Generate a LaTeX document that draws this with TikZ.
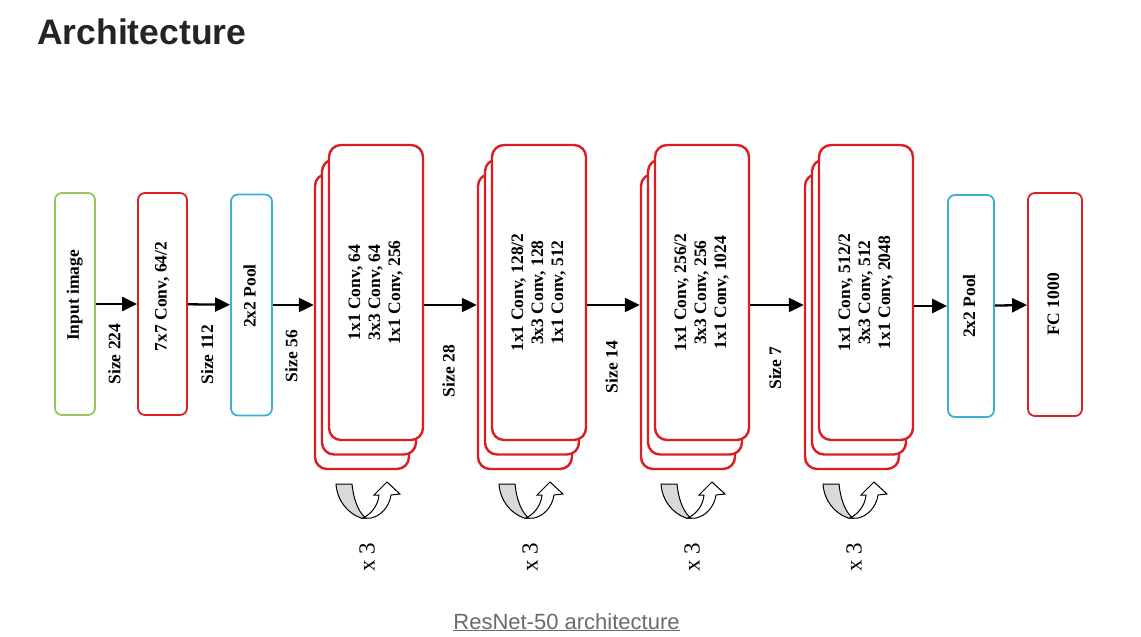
\documentclass[tikz,border=0pt]{standalone}
\usepackage{fontspec}
\usepackage{graphicx}
\setmainfont{Liberation Serif}
\newfontfamily\headfont{Liberation Sans}
\usetikzlibrary{arrows.meta}
\definecolor{boxred}{RGB}{220,30,36}
\definecolor{boxgreen}{RGB}{150,200,90}
\definecolor{boxblue}{RGB}{60,175,215}
\definecolor{capgray}{RGB}{107,107,107}
\definecolor{headblack}{RGB}{36,36,36}
\newcommand{\vlab}[1]{\rotatebox{90}{\begin{tabular}{@{}c@{}}#1\end{tabular}}}

\begin{document}
\begin{tikzpicture}[x=1pt,y=-1pt,
  blk/.style={draw,fill=white,rounded corners=7pt,line width=1.8pt,inner sep=0pt,font=\fontsize{17.5}{20}\selectfont\bfseries},
  stk/.style={blk,draw=boxred,rounded corners=12pt,line width=2.4pt,minimum width=94,minimum height=295},
  arr/.style={line width=2.3pt,-{Triangle[length=15pt,width=14pt]}},
  lbl/.style={font=\fontsize{17.5}{20}\selectfont\bfseries,inner sep=0pt}]
\useasboundingbox[fill=white] (0,0) rectangle (1141,637);
\node[anchor=base west,inner sep=0pt,text=headblack,font=\fontsize{35.5}{40}\selectfont\headfont\bfseries] (title) at (37,44) {Architecture};
\node[anchor=base,inner sep=0pt,text=capgray,font=\fontsize{22}{26}\selectfont\headfont] (caption) at (566.5,629) {\underline{ResNet-50 architecture}};

\node[blk,draw=boxgreen,minimum width=40,minimum height=222] (img) at (75,304) {\vlab{\hspace*{17pt}Input image}};
\node[blk,draw=boxred,minimum width=49,minimum height=222] (conv) at (162.5,304) {\vlab{\hspace*{15pt}7x7 Conv, 64/2}};
\node[blk,draw=boxblue,minimum width=41,minimum height=221] (pool) at (251.5,305) {\vlab{\hspace*{18pt}2x2 Pool}};
\foreach \i/\x/\txt in {1/376/{1x1 Conv, 64\\3x3 Conv, 64\\1x1 Conv, 256},
  2/539/{1x1 Conv, 128/2\\3x3 Conv, 128\\1x1 Conv, 512},
  3/702/{1x1 Conv, 256/2\\3x3 Conv, 256\\1x1 Conv, 1024},
  4/866/{1x1 Conv, 512/2\\3x3 Conv, 512\\1x1 Conv, 2048}} {
\node[stk] (s\i r) at (\x-14,321.5) {};
\node[stk] (s\i m) at (\x-7,307) {};
\node[stk] (s\i) at (\x,292.5) {\vlab{\txt}};
}
\node[blk,draw=boxblue,minimum width=46,minimum height=222] (pool2) at (971,306) {\vlab{2x2 Pool}};
\node[blk,draw=boxred,minimum width=54,minimum height=223] (fc) at (1055,304.5) {\vlab{FC 1000}};

\draw[arr] (img) -- (conv) node[midway,lbl,yshift=-50pt] (sz224) {\vlab{Size 224}};
\draw[arr] (conv) -- (pool) node[midway,lbl,yshift=-50pt] (sz112) {\vlab{Size 112}};
\draw[arr] (pool) -- (pool -| s1r.west) node[midway,lbl,yshift=-51pt] (sz56) {\vlab{Size 56}};
\foreach \i/\j/\sz/\dy in {1/2/28/66,2/3/14/62,3/4/7/63}
\draw[arr] (s\i.east |- pool) -- (s\j r.west |- pool) node[midway,lbl,yshift=-\dy pt] (sz\sz) {\vlab{Size \sz}};
\draw[arr] (s4.east |- pool2) -- (pool2);
\draw[arr] (pool2) -- (fc);

\foreach \x [count=\i] in {366,529,691,853} {
\begin{scope}[shift={(\x,518)},line width=1pt]
\filldraw[fill=gray!30] (-30,-34) -- (-14,-34) .. controls (-12,-15) and (-6,-4) .. (0,0) -- (-5,0) .. controls (-19,-5) and (-29,-18) .. (-30,-34) -- cycle;
\filldraw[fill=white] (-3,0) .. controls (5,-4) and (12,-12) .. (13,-23) -- (8,-23) -- (21,-36) -- (34,-24) -- (25,-23) .. controls (23,-10) and (14,-2) .. (5,0) -- cycle;
\end{scope}
\node[inner sep=0pt,font=\fontsize{23}{26}\selectfont] (rep\i) at (\x+1,557) {\rotatebox{90}{x 3}};
}
\end{tikzpicture}
\end{document}
